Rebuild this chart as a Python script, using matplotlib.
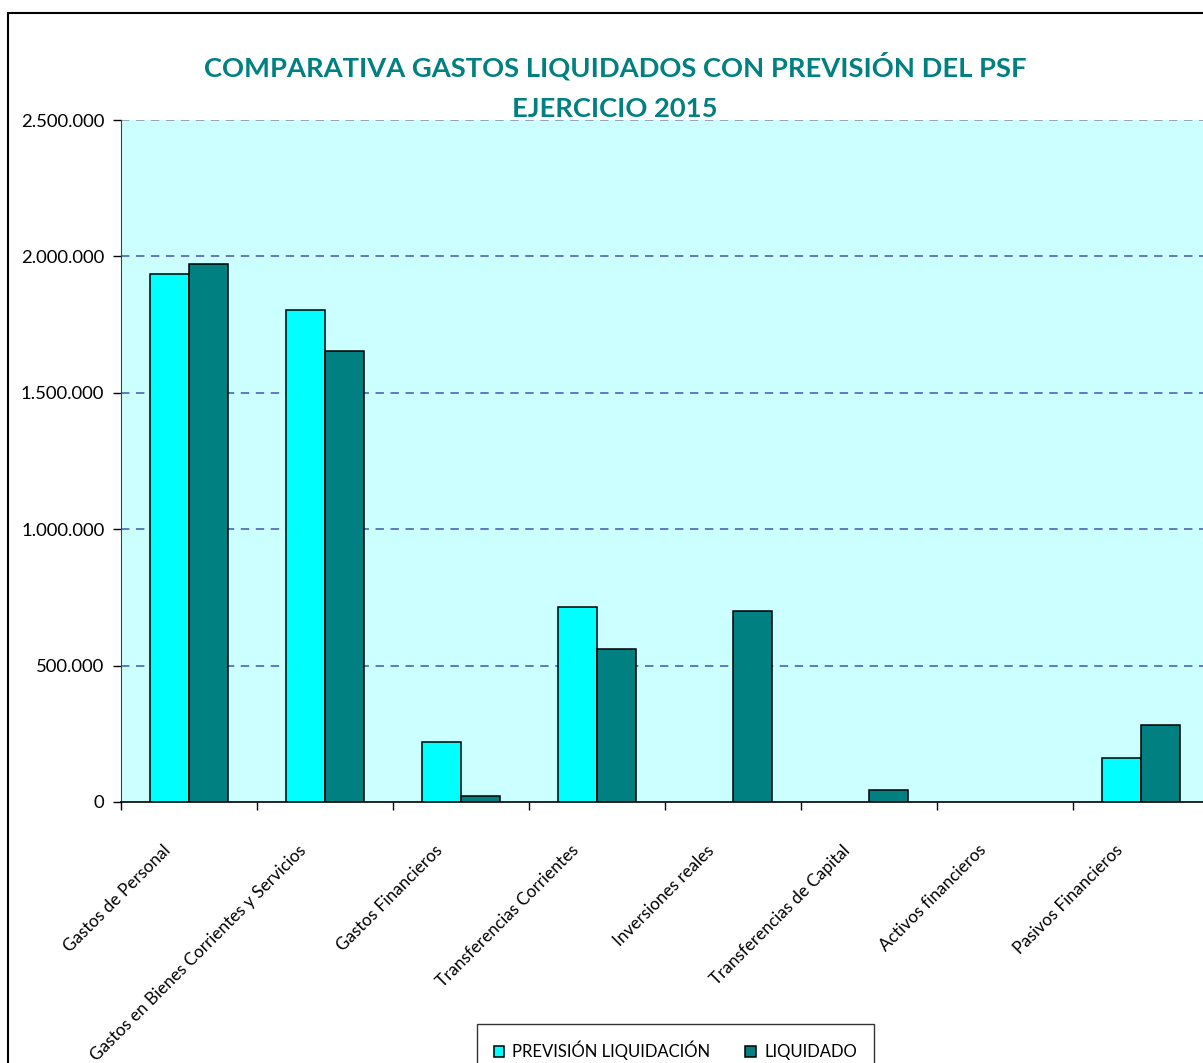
import matplotlib
matplotlib.use("Agg")
from matplotlib import pyplot as plt
from matplotlib import transforms
from matplotlib.patches import Patch, Rectangle
from matplotlib.ticker import FuncFormatter, MultipleLocator

categorias = ['Gastos de Personal', 'Gastos en Bienes Corrientes y Servicios',
              'Gastos Financieros', 'Transferencias Corrientes', 'Inversiones reales',
              'Transferencias de Capital', 'Activos financieros', 'Pasivos Financieros']
prevision = [1934000, 1805000, 221000, 715000, 0, 0, 0, 160000]
liquidado = [1972000, 1654000, 21000, 561000, 700000, 44000, 0, 282000]
nombres_series = ['PREVISIÓN LIQUIDACIÓN', 'LIQUIDADO']

plt.rcParams['font.family'] = ['Lato', 'DejaVu Sans']

ancho_px, alto_px = 1203, 1063
fig = plt.figure(figsize=(ancho_px / 100, alto_px / 100), dpi=100)
fig.patch.set_facecolor('white')

# marco del grafico (se sale por la derecha y por abajo)
fig.add_artist(Rectangle((8 / ancho_px, -0.05), 1.1, 1 - 13 / alto_px + 0.05,
                         transform=fig.transFigure, fill=False,
                         edgecolor='black', linewidth=1.5))

ax = fig.add_axes([121 / ancho_px, 1 - 802 / alto_px,
                   (1209 - 121) / ancho_px, (802 - 120) / alto_px])
ax.set_facecolor('#CCFFFF')

ancho = 0.2857
x = list(range(len(categorias)))
ax.bar([i - ancho / 2 for i in x], prevision, ancho, color='#00FFFF',
       edgecolor=['black' if v else 'none' for v in prevision],
       linewidth=1.1, zorder=3, label=nombres_series[0])
ax.bar([i + ancho / 2 for i in x], liquidado, ancho, color='#008080',
       edgecolor=['black' if v else 'none' for v in liquidado],
       linewidth=1.1, zorder=3, label=nombres_series[1])

ax.set_xlim(-0.5, len(categorias) - 0.5)
ax.set_ylim(0, 2500000)

ax.yaxis.set_major_locator(MultipleLocator(500000))
ax.yaxis.set_major_formatter(FuncFormatter(lambda v, p: f"{int(v):,}".replace(',', '.')))
ax.tick_params(axis='y', direction='out', length=6, width=1, pad=6,
               labelsize=13.3, colors='black')
for v in range(500000, 2500001, 500000):
    color = '#8a8aa0' if v == 2500000 else '#4456b0'
    ax.axhline(v, color=color, linewidth=1.1, dashes=(5.5, 4.3), zorder=1)

ax.set_xticks([i - 0.5 for i in x])
ax.set_xticklabels([])
ax.set_xticks(x, minor=True)
ax.set_xticklabels(categorias, minor=True, rotation=45, ha='right', va='center',
                   rotation_mode='anchor', fontsize=12.3)
ax.tick_params(axis='x', which='major', direction='out', length=6, width=1)
ax.tick_params(axis='x', which='minor', length=0, pad=33)
desplaz = transforms.ScaledTranslation(-21 / 100, 0, fig.dpi_scale_trans)
for etiqueta in ax.get_xticklabels(minor=True):
    etiqueta.set_transform(etiqueta.get_transform() + desplaz)

ax.spines['top'].set_visible(False)
ax.spines['right'].set_visible(False)
ax.spines['left'].set_color('#404040')
ax.spines['bottom'].set_color('black')
ax.spines['bottom'].set_linewidth(1.2)

fig.text(615 / ancho_px, 1 - 66 / alto_px, 'COMPARATIVA GASTOS LIQUIDADOS CON PREVISIÓN DEL PSF',
         ha='center', va='center', fontsize=19.7, fontweight='bold', color='#008080')
fig.text(615 / ancho_px, 1 - 109 / alto_px, 'EJERCICIO 2015',
         ha='center', va='center', fontsize=19.7, fontweight='bold', color='#008080')

manijas = [Patch(facecolor='#00FFFF', edgecolor='black', linewidth=1.1),
           Patch(facecolor='#008080', edgecolor='black', linewidth=1.1)]
ley = fig.legend(manijas, nombres_series, loc='upper left',
                 bbox_to_anchor=(477 / ancho_px, 1 - 1024 / alto_px),
                 borderaxespad=0, ncol=2, fontsize=12, frameon=True, fancybox=False,
                 edgecolor='black', handlelength=0.62, handleheight=0.62,
                 handletextpad=0.5, columnspacing=2.1, borderpad=1.0)
ley.get_frame().set_linewidth(1.0)

fig.savefig('out.png', dpi=100)
